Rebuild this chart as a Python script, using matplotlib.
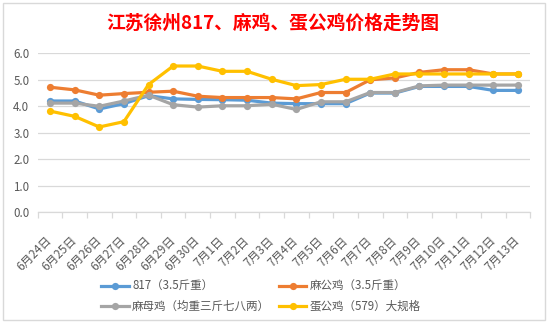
import matplotlib
matplotlib.use("Agg")
import matplotlib.pyplot as plt
from matplotlib.patches import Rectangle

plt.rcParams['font.family'] = ['Noto Sans CJK SC', 'DejaVu Sans']

dates = ["6月24日", "6月25日", "6月26日", "6月27日", "6月28日", "6月29日", "6月30日",
         "7月1日", "7月2日", "7月3日", "7月4日", "7月5日", "7月6日", "7月7日",
         "7月8日", "7月9日", "7月10日", "7月11日", "7月12日", "7月13日"]

s817 = [4.2, 4.2, 3.9, 4.1, 4.4, 4.28, 4.26, 4.25, 4.23, 4.12, 4.1, 4.1, 4.1, 4.5,
        4.5, 4.75, 4.75, 4.75, 4.6, 4.6]
ma_gong = [4.72, 4.62, 4.42, 4.48, 4.53, 4.57, 4.38, 4.33, 4.33, 4.33, 4.28, 4.52, 4.52, 5.0,
           5.07, 5.28, 5.38, 5.38, 5.22, 5.22]
ma_mu = [4.12, 4.12, 4.0, 4.2, 4.42, 4.06, 3.97, 4.02, 4.02, 4.08, 3.88, 4.17, 4.17, 4.52,
         4.52, 4.77, 4.8, 4.8, 4.8, 4.8]
dan_gong = [3.82, 3.62, 3.22, 3.42, 4.82, 5.52, 5.52, 5.32, 5.32, 5.02, 4.78, 4.82, 5.02, 5.02,
            5.22, 5.22, 5.22, 5.22, 5.22, 5.22]

names = ["817（3.5斤重）", "麻公鸡（3.5斤重）", "麻母鸡（均重三斤七八两）", "蛋公鸡（579）大规格"]
colors = ["#5B9BD5", "#ED7D31", "#A5A5A5", "#FFC000"]
series = [s817, ma_gong, ma_mu, dan_gong]
yticks = [0.0, 1.0, 2.0, 3.0, 4.0, 5.0, 6.0]

fig = plt.figure(figsize=(5.49, 3.23), dpi=100)
ax = fig.add_axes([37.7 / 549, 1 - 212.3 / 323, (530.3 - 37.7) / 549, (212.3 - 53.3) / 323])

x = list(range(len(dates)))
lines = []
for name, col, vals in zip(names, colors, series):
    ln, = ax.plot(x, vals, color=col, lw=2.3, marker='o', markersize=5.2,
                  markeredgewidth=0, label=name, solid_joinstyle='round')
    lines.append(ln)

ax.set_xlim(-0.5, len(dates) - 0.5)
ax.set_ylim(0, 6)
ax.set_yticks(yticks)
ax.set_yticklabels([f"{v:.1f}" for v in yticks], color="#595959", fontsize=8.3)
ax.grid(axis='y', color="#D9D9D9", lw=0.9)
ax.set_axisbelow(True)
for sp in ['top', 'right', 'left']:
    ax.spines[sp].set_visible(False)
ax.spines['bottom'].set_color("#D9D9D9")
ax.spines['bottom'].set_linewidth(0.9)
ax.tick_params(axis='y', length=0, pad=6)

ax.set_xticks(x)
ax.set_xticklabels(dates, rotation=45, ha='right', va='center', rotation_mode='anchor',
                   color="#595959", fontsize=8.5)
ax.tick_params(axis='x', which='major', length=0, pad=19)
ax.set_xticks([i - 0.5 for i in range(len(dates) + 1)], minor=True)
ax.tick_params(axis='x', which='minor', length=4, color="#D9D9D9", width=0.9)

fig.text(273 / 549, 1 - 23 / 323, "江苏徐州817、麻鸡、蛋公鸡价格走势图", color="#FF0000",
         fontsize=13.5, fontweight='bold', ha='center', va='center')

handles = [lines[0], lines[2], lines[1], lines[3]]
labels = [names[0], names[2], names[1], names[3]]
fig.legend(handles, labels, ncol=2, loc='center', bbox_to_anchor=(261 / 549, 1 - 296.5 / 323),
           frameon=False, fontsize=8.3, labelcolor="#595959", handlelength=2.4,
           handletextpad=0.3, columnspacing=0.75, labelspacing=0.55)

fig.patches.append(Rectangle((2.5 / 549, 1 - 320.3 / 323), (545 - 2.5) / 549, (320.3 - 2.5) / 323,
                             transform=fig.transFigure, fill=False, edgecolor="#D9D9D9", lw=1))

fig.savefig("out.png", dpi=100)
